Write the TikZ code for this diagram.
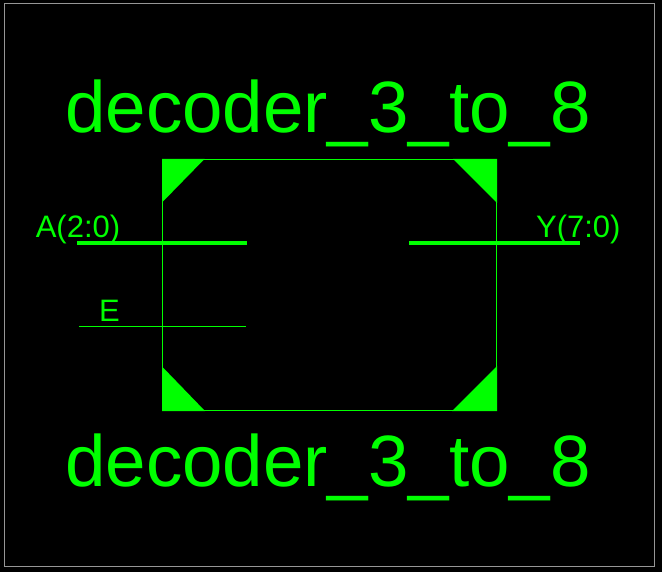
\documentclass[tikz,border=0pt]{standalone}
\usepackage{fontspec}
\setmainfont{Liberation Sans}
\definecolor{symgreen}{RGB}{0,255,0}
\definecolor{framegray}{RGB}{150,150,150}
\tikzset{
  title/.style={text=symgreen,font=\fontsize{72.7}{72.7}\selectfont,anchor=base,inner sep=0pt},
  pinlabel/.style={text=symgreen,font=\fontsize{31}{31}\selectfont,anchor=base,inner sep=0pt},
  bus/.style={draw=symgreen,line width=4pt},
  wire/.style={draw=symgreen,line width=1pt},
  corner/.style={fill=symgreen}
}
\begin{document}
\begin{tikzpicture}[x=1pt,y=-1pt]
\fill[black] (0,0) rectangle (662,572);
\useasboundingbox (0,0) rectangle (662,572);
\draw[framegray,line width=1pt] (4.5,4) rectangle (654.5,566.5);
% corners
\fill[corner] (162,159) -- (204.5,159) -- (162,202.5) -- cycle;
\fill[corner] (497,159) -- (453,159) -- (497,203) -- cycle;
\fill[corner] (162,411) -- (205,411) -- (162,366.5) -- cycle;
\fill[corner] (497,411) -- (452,411) -- (497,366) -- cycle;
% outline
\draw[wire] (162.5,159.5) rectangle (496.5,410.5);
\node[title] (top) at (328,133) {decoder\_3\_to\_8};
\node[title] (bottom) at (328,486) {decoder\_3\_to\_8};
% pins
\coordinate (a1) at (77,243);
\coordinate (a2) at (247,243);
\coordinate (e1) at (79,326.5);
\coordinate (e2) at (246,326.5);
\coordinate (y1) at (409,243);
\coordinate (y2) at (580,243);
\draw[bus] (a1) -- (a2);
\draw[wire] (e1) -- (e2);
\draw[bus] (y1) -- (y2);
\node[pinlabel] (alabel) at (78,238) {A(2:0)};
\node[pinlabel] (elabel) at (109.5,321.5) {E};
\node[pinlabel] (ylabel) at (578.3,238) {Y(7:0)};
\end{tikzpicture}
\end{document}
